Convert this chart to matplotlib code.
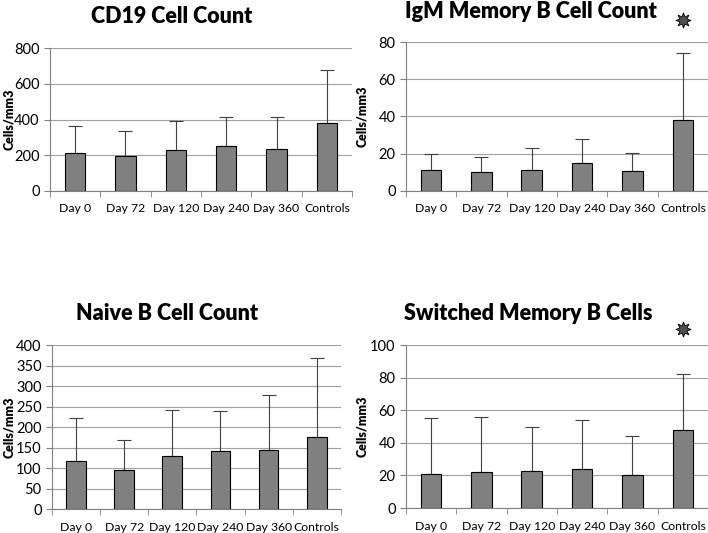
import numpy as np
import matplotlib.pyplot as plt

plt.rcParams['font.family'] = ['Lato', 'DejaVu Sans']

# Categories shared by all four panels
days = ['Day 0', 'Day 72', 'Day 120', 'Day 240', 'Day 360', 'Controls']

# Mean counts and the top of the upper error bar (cells/mm3)
cd19_mean = [210, 195, 228, 250, 233, 383]
cd19_top = [362, 335, 390, 412, 412, 675]

igm_mean = [11, 10, 11.5, 15, 10.5, 38]
igm_top = [20, 18.5, 23, 28, 20.3, 74]

naive_mean = [116, 94, 130, 141, 143, 176]
naive_top = [223, 169, 242, 240, 279, 368]

switched_mean = [21, 22, 22.5, 24, 20, 48]
switched_top = [55, 56, 50, 54, 44, 82]

W, H = 708, 533
fig = plt.figure(figsize=(W / 100, H / 100), dpi=100)


def draw_panel(rect, title, title_pos, label_x, means, tops, ymax, ystep,
               star_y=None):
    ax = fig.add_axes(rect)
    x = np.arange(len(days))
    means = np.array(means, dtype=float)
    err = np.array(tops, dtype=float) - means
    ax.bar(x, means, width=0.41, color='#808080', edgecolor='black',
           linewidth=0.8, zorder=3)
    ax.errorbar(x, means, yerr=[np.zeros_like(err), err], fmt='none',
                ecolor='#404040', elinewidth=0.8, capsize=5, capthick=0.8,
                zorder=2)
    ax.set_xlim(-0.5, len(days) - 0.5)
    ax.set_ylim(0, ymax)
    ax.set_yticks(np.arange(0, ymax + ystep / 2, ystep))
    ax.yaxis.grid(True, color='#a0a0a0', linewidth=0.8, zorder=0)
    ax.set_axisbelow(True)
    ax.set_xticks(x)
    ax.set_xticklabels(days, fontsize=8.8)
    ax.set_xticks(np.arange(-0.5, len(days), 1), minor=True)
    ax.tick_params(axis='x', which='major', length=0, pad=9)
    ax.tick_params(axis='x', which='minor', length=4, color='#808080')
    ax.tick_params(axis='y', length=4, color='#808080', labelsize=10.5)
    for s in ['top', 'right']:
        ax.spines[s].set_visible(False)
    for s in ['left', 'bottom']:
        ax.spines[s].set_color('#808080')
    ax.set_ylabel('Cells/mm3', fontsize=9, fontweight='heavy')
    ax.yaxis.set_label_coords((label_x / W - rect[0]) / rect[2], 0.5)
    fig.text(title_pos[0] / W, 1 - title_pos[1] / H, title, fontsize=15.5,
             fontweight='heavy', ha='center', va='baseline')
    if star_y is not None:
        ax.plot([len(days) - 1], [star_y], marker=(8, 1, 0), markersize=11,
                color='#505050', markeredgecolor='black', markeredgewidth=0.6,
                clip_on=False)
    return ax


draw_panel([0.0706, 0.6417, 0.4266, 0.268], 'CD19 Cell Count', (172, 23), 15,
           cd19_mean, cd19_top, 800, 200)
draw_panel([0.5734, 0.6417, 0.4266, 0.2795], 'IgM Memory B Cell Count', (531, 18), 368,
           igm_mean, igm_top, 80, 20, star_y=92)
draw_panel([0.0734, 0.045, 0.408, 0.3077], 'Naive B Cell Count', (167, 320), 15,
           naive_mean, naive_top, 400, 50)
draw_panel([0.5734, 0.0469, 0.4266, 0.3058], 'Switched Memory B Cells', (528, 320), 368,
           switched_mean, switched_top, 100, 20, star_y=110)

fig.savefig('out.png', dpi=100)
